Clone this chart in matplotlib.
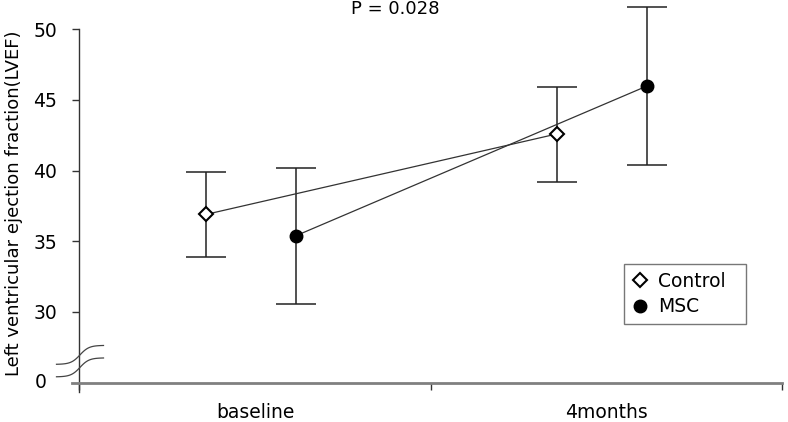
import matplotlib
matplotlib.use("Agg")
import matplotlib.pyplot as plt
from matplotlib.lines import Line2D
import numpy as np

# values
groups = ["baseline", "4months"]
control_mean = [36.9, 42.6]
control_low = [33.9, 39.2]
control_high = [39.9, 45.9]
msc_mean = [35.4, 46.0]
msc_low = [30.6, 40.4]
msc_high = [40.2, 51.6]
y_ticks = [30, 35, 40, 45, 50]
p_text = "P = 0.028"

# layout
centers = np.array([0.5, 1.5])
off_control = -0.14
off_msc = 0.117
FS = 13
FS_TICK = 13.5

plt.rcParams["font.family"] = ["DejaVu Sans"]

fig = plt.figure(figsize=(7.88, 4.22), dpi=100)
ax = fig.add_axes([72 / 788, 1 - 392 / 422, 710 / 788, 392 / 422])
ax.set_xlim(-0.021, 2.0)
ax.set_ylim(24.34, 52.07)

# error bars + lines
xc = centers + off_control
xm = centers + off_msc
cm = np.array(control_mean)
mm = np.array(msc_mean)
ax.errorbar(xc, cm, yerr=[cm - np.array(control_low), np.array(control_high) - cm],
            fmt="none", ecolor="#222222", elinewidth=1.1, capsize=14.5, capthick=1.1, zorder=2)
ax.errorbar(xm, mm, yerr=[mm - np.array(msc_low), np.array(msc_high) - mm],
            fmt="none", ecolor="#222222", elinewidth=1.1, capsize=14.5, capthick=1.1, zorder=2)
ax.plot(xc, cm, color="#333333", lw=0.9, zorder=3)
ax.plot(xm, mm, color="#333333", lw=0.9, zorder=3)
ax.plot(xc, cm, ls="none", marker="D", ms=7.3, mfc="white", mec="black", mew=1.5, zorder=4)
ax.plot(xm, mm, ls="none", marker="o", ms=9, mfc="black", mec="black", zorder=4)

# spines
for s in ["top", "right"]:
    ax.spines[s].set_visible(False)
ax.spines["left"].set_position(("data", 0))
ax.spines["left"].set_bounds(24.34, 50)
ax.spines["left"].set_color("#333333")
ax.spines["left"].set_linewidth(1.0)
ax.spines["bottom"].set_position(("data", 25))
ax.spines["bottom"].set_bounds(-0.021, 2.0)
ax.spines["bottom"].set_color("#808080")
ax.spines["bottom"].set_linewidth(2.0)

ax.set_yticks(y_ticks)
ax.set_yticklabels([str(t) for t in y_ticks], fontsize=FS_TICK)
ax.tick_params(axis="y", direction="out", length=5, width=1, color="#333333", pad=11)
ax.annotate("0", xy=(0, 25), xycoords="data", xytext=(-33, 0), textcoords="offset pixels",
            ha="right", va="center", fontsize=FS_TICK)

ax.set_xticks([0, 1, 2])
ax.set_xticklabels([])
ax.tick_params(axis="x", which="major", direction="out", length=5, width=1, color="#333333")
ax.set_xticks(centers, minor=True)
ax.set_xticklabels(groups, minor=True, fontsize=FS_TICK)
ax.tick_params(axis="x", which="minor", length=0, pad=14.5)

ax.set_ylabel("Left ventricular ejection fraction(LVEF)", fontsize=FS)
ax.yaxis.set_label_coords((23 - 72) / 710, 0.482)

# axis break marks
def px_to_data(px, py):
    return (px - 72) / 351.3 - 0.021, 50 - (py - 29.3) / 14.14

t = np.linspace(-23.5, 23.5, 60)
for yc in (355, 367.5):
    xs, ys = px_to_data(80 + t, yc - 9.5 * np.tanh(t / 9.0))
    ax.plot(xs, ys, color="#444444", lw=0.9, clip_on=False, zorder=5)

# legend
handles = [
    Line2D([], [], ls="none", marker="D", ms=7.3, mfc="white", mec="black", mew=1.5),
    Line2D([], [], ls="none", marker="o", ms=9, mfc="black", mec="black"),
]
leg = ax.legend(handles, ["Control  ", "MSC"], loc="upper left",
                bbox_to_anchor=((624 - 72) / 710, 1 - 264 / 392),
                fontsize=FS_TICK, frameon=True, fancybox=False, handlelength=0.85,
                handletextpad=0.55, labelspacing=0.35, borderpad=0.42,
                borderaxespad=0, edgecolor="#555555")
leg.get_frame().set_linewidth(1.0)

fig.text(395 / 788, 1 - 9 / 422, p_text, ha="center", va="center", fontsize=FS)

fig.savefig("out.png", dpi=100)
